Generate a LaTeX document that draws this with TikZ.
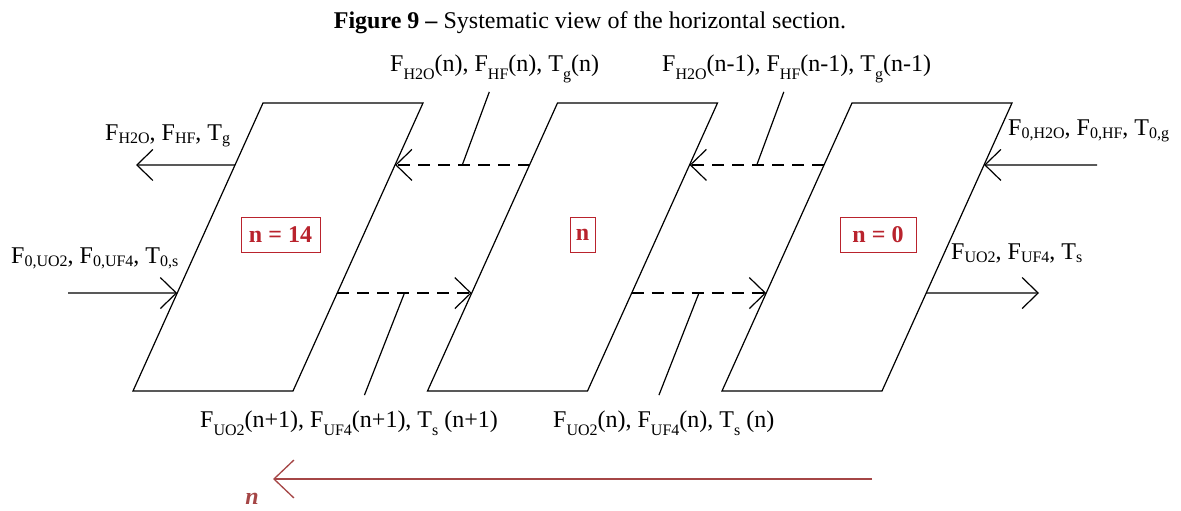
\documentclass[tikz,border=0pt]{standalone}
\usepackage{fontspec}
\setmainfont{Liberation Serif}
\usetikzlibrary{calc, arrows.meta}
\definecolor{boxred}{RGB}{185,35,45}
\definecolor{flowred}{RGB}{165,70,70}
\newcommand{\lo}[1]{\raisebox{-3pt}{\fontsize{16}{16}\selectfont #1}}
\newcommand{\dn}[1]{\raisebox{-8pt}{\fontsize{16}{16}\selectfont #1}}

\begin{document}
\begin{tikzpicture}[
        x=1pt, y=-1pt,
        cell/.style={draw=black, line width=1.2pt},
        lbl/.style={anchor=base west, inner sep=0pt, font=\fontsize{24}{28}\selectfont},
        idx/.style={draw=boxred, line width=0.9pt, text=boxred, fill=white,
                    font=\fontsize{24}{28}\selectfont\bfseries,
                    minimum height=35pt, inner sep=0pt},
        flow/.style={line width=1.2pt, -{Straight Barb[length=16pt, width=31pt]}},
        dflow/.style={flow, dash pattern=on 12pt off 8pt},
        leader/.style={line width=1.2pt},
    ]
    \fill[white] (0,0) rectangle (1181,511);
    \useasboundingbox (0,0) rectangle (1181,511);

    % Titel
    \node[font=\fontsize{24}{28}\selectfont] (title) at (590,23)
        {\textbf{Figure 9 –} Systematic view of the horizontal section.};

    % drei Zellen
    \foreach \cid/\x in {c14/263, cn/557.5, c0/852} {
        \coordinate (\cid-tl) at (\x, 103);
        \coordinate (\cid-tr) at (\x+160, 103);
        \coordinate (\cid-br) at (\x+30, 391);
        \coordinate (\cid-bl) at (\x-130, 391);
        \draw[cell] (\cid-tl) -- (\cid-tr) -- (\cid-br) -- (\cid-bl) -- cycle;
        \coordinate (\cid-lg) at ($(\cid-tl)!0.215!(\cid-bl)$);
        \coordinate (\cid-ls) at ($(\cid-tl)!0.66!(\cid-bl)$);
        \coordinate (\cid-rg) at ($(\cid-tr)!0.215!(\cid-br)$);
        \coordinate (\cid-rs) at ($(\cid-tr)!0.66!(\cid-br)$);
    }

    \node[idx, minimum width=79pt] (b14) at (280.5,234.5) {n = 14};
    \node[idx, minimum width=25pt] (bn) at (582.5,234.5) {n};
    \node[idx, minimum width=76pt] (b0) at (878,235) {n = 0};

    % Gas (nach links)
    \coordinate (gend) at (136,165);
    \coordinate (gstart) at (1097,165);
    \draw[flow] (c14-lg) -- (gend);
    \draw[dflow] (cn-lg) -- (c14-rg);
    \draw[dflow] (c0-lg) -- (cn-rg);
    \draw[flow] (gstart) -- (c0-rg);

    % Feststoff (nach rechts)
    \coordinate (sstart) at (68,293);
    \coordinate (send) at (1039,293);
    \draw[flow] (sstart) -- (c14-ls);
    \draw[dflow] (c14-rs) -- (cn-ls);
    \draw[dflow] (cn-rs) -- (c0-ls);
    \draw[flow] (c0-rs) -- (send);

    % Beschriftungen
    \node[lbl] (gout) at (105,140) {F\lo{H2O}, F\lo{HF}, T\lo{g}};
    \node[lbl] (gin) at (1008,135) {F\lo{0,H2O}, F\lo{0,HF}, T\lo{0,g}};
    \node[lbl] (sin) at (11,263) {F\lo{0,UO2}, F\lo{0,UF4}, T\lo{0,s}};
    \node[lbl] (sout) at (951,259) {F\lo{UO2}, F\lo{UF4}, T\lo{s}};
    \node[lbl] (gn) at (390,72) {F\dn{H2O}(n), F\dn{HF}(n), T\dn{g}(n)};
    \node[lbl] (gn1) at (662,72) {F\dn{H2O}(n-1), F\dn{HF}(n-1), T\dn{g}(n-1)};
    \node[lbl] (sn1) at (200,427) {F\dn{UO2}(n+1), F\dn{UF4}(n+1), T\dn{s} (n+1)};
    \node[lbl] (sn) at (553,427) {F\dn{UO2}(n), F\dn{UF4}(n), T\dn{s} (n)};

    % Zuordnungsstriche
    \coordinate (t1) at ($(c14-rg)!0.5!(cn-lg)$);
    \coordinate (t2) at ($(cn-rg)!0.5!(c0-lg)$);
    \coordinate (t3) at ($(c14-rs)!0.5!(cn-ls)$);
    \coordinate (t4) at ($(cn-rs)!0.5!(c0-ls)$);
    \coordinate (t1e) at ($(t1)+(27,-73)$);
    \coordinate (t2e) at ($(t2)+(27,-73)$);
    \coordinate (t3e) at ($(t3)+(-40,102)$);
    \coordinate (t4e) at ($(t4)+(-40,102)$);
    \draw[leader] (t1) -- (t1e);
    \draw[leader] (t2) -- (t2e);
    \draw[leader] (t3) -- (t3e);
    \draw[leader] (t4) -- (t4e);

    % Laufrichtung
    \coordinate (dira) at (872,479);
    \coordinate (dirb) at (273,479);
    \draw[flowred, line width=1.3pt, -{Straight Barb[length=20pt, width=38pt]}] (dira) -- (dirb);
    \node[text=flowred, font=\fontsize{24}{28}\selectfont\bfseries\itshape,
          inner sep=1pt] (dirn) at (252,499) {n};
\end{tikzpicture}
\end{document}
